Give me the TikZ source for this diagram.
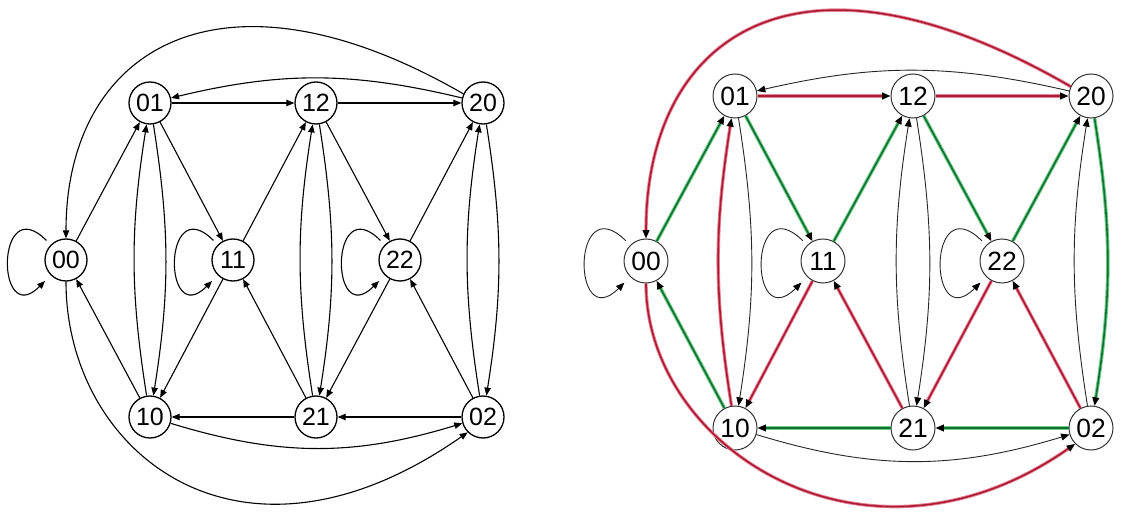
\documentclass[tikz,border=0pt]{standalone}
\usepackage{fontspec}
\setmainfont{Liberation Sans}
\usetikzlibrary{arrows.meta}
\definecolor{redcore}{RGB}{170,28,52}
\definecolor{redglow}{RGB}{232,130,150}
\definecolor{greencore}{RGB}{18,112,52}
\definecolor{greenglow}{RGB}{110,205,135}
\begin{document}
\begin{tikzpicture}[x=0.5pt,y=0.5pt,
  L/.style={circle,draw,fill=white,line width=0.65pt,minimum size=21pt,inner sep=0pt,font=\fontsize{12.5}{12.5}\selectfont},
  R/.style={circle,draw=black!80,fill=white,line width=0.5pt,minimum size=22pt,inner sep=0pt,font=\fontsize{13.2}{13.2}\selectfont},
  e/.style={line width=0.55pt,-{Triangle[length=4pt,width=3.2pt]}},
  te/.style={line width=0.45pt,draw=black!85,-{Triangle[length=4.2pt,width=3.4pt,black]}},
  re/.style={line width=0.8pt,draw=redcore,preaction={draw=redglow,line width=1.7pt,arrows=-,shorten >=4pt},-{Triangle[length=4.2pt,width=3.4pt,black]}},
  ge/.style={line width=0.8pt,draw=greencore,preaction={draw=greenglow,line width=1.8pt,arrows=-,shorten >=4pt},-{Triangle[length=4.2pt,width=3.4pt,black]}},
  lp/.style={shorten <=3pt,shorten >=4pt}]
\fill[white] (0,0) rectangle (1136,515);
\useasboundingbox (0,0) rectangle (1136,515);
% ---------------- left diagram ----------------
\node[L] (a00) at (66,255) {00};
\node[L] (a01) at (150,412) {01};
\node[L] (a10) at (150,98) {10};
\node[L] (a11) at (233,255) {11};
\node[L] (a12) at (316,412) {12};
\node[L] (a21) at (316,98) {21};
\node[L] (a22) at (400,255) {22};
\node[L] (a20) at (483,412) {20};
\node[L] (a02) at (483,98) {02};
\draw[e] (a00) -- (a01);
\draw[e] (a10) -- (a00);
\draw[e] (a01) -- (a11);
\draw[e] (a11) -- (a12);
\draw[e] (a11) -- (a10);
\draw[e] (a21) -- (a11);
\draw[e] (a12) -- (a22);
\draw[e] (a22) -- (a20);
\draw[e] (a22) -- (a21);
\draw[e] (a02) -- (a22);
\draw[e] (a01) -- (a12);
\draw[e] (a12) -- (a20);
\draw[e] (a21) -- (a10);
\draw[e] (a02) -- (a21);
\draw[e] (a10) to[bend left=9] (a01);
\draw[e] (a01) to[bend left=9] (a10);
\draw[e] (a21) to[bend left=9] (a12);
\draw[e] (a12) to[bend left=9] (a21);
\draw[e] (a02) to[bend left=9] (a20);
\draw[e] (a20) to[bend left=9] (a02);
\draw[e] (a20) to[bend right=13.5] (a01);
\draw[e] (a10) to[bend right=17] (a02);
\draw[e] (a20.155) .. controls +(150:280) and +(90:190) .. (a00.north);
\draw[e] (a00.south) .. controls +(270:170) and +(215:280) .. (a02.225);
\draw[e,lp] (a00.135) .. controls +(135:78) and +(225:78) .. (a00.225);
\draw[e,lp] (a11.135) .. controls +(135:78) and +(225:78) .. (a11.225);
\draw[e,lp] (a22.135) .. controls +(135:78) and +(225:78) .. (a22.225);
% ---------------- right diagram ----------------
\node[R] (b00) at (646,254) {00};
\node[R] (b01) at (735,419) {01};
\node[R] (b10) at (735,87) {10};
\node[R] (b11) at (823,254) {11};
\node[R] (b12) at (913,419) {12};
\node[R] (b21) at (913,87) {21};
\node[R] (b22) at (1002,254) {22};
\node[R] (b20) at (1091,419) {20};
\node[R] (b02) at (1091,87) {02};
\draw[te] (b20) to[bend right=13] (b01);
\draw[te] (b10) to[bend right=17] (b02);
\draw[te] (b01) to[bend left=9] (b10);
\draw[te] (b21) to[bend left=9] (b12);
\draw[te] (b12) to[bend left=9] (b21);
\draw[te] (b02) to[bend left=9] (b20);
\draw[te,lp] (b00.135) .. controls +(135:83) and +(225:83) .. (b00.225);
\draw[te,lp] (b11.135) .. controls +(135:83) and +(225:83) .. (b11.225);
\draw[te,lp] (b22.135) .. controls +(135:83) and +(225:83) .. (b22.225);
\draw[re] (b01) -- (b12);
\draw[re] (b12) -- (b20);
\draw[re] (b20.155) .. controls +(150:320) and +(90:200) .. (b00.north);
\draw[re] (b00.south) .. controls +(270:165) and +(215:255) .. (b02.225);
\draw[re] (b10) to[bend left=9] (b01);
\draw[re] (b11) -- (b10);
\draw[re] (b21) -- (b11);
\draw[re] (b22) -- (b21);
\draw[re] (b02) -- (b22);
\draw[ge] (b21) -- (b10);
\draw[ge] (b02) -- (b21);
\draw[ge] (b00) -- (b01);
\draw[ge] (b10) -- (b00);
\draw[ge] (b01) -- (b11);
\draw[ge] (b11) -- (b12);
\draw[ge] (b12) -- (b22);
\draw[ge] (b22) -- (b20);
\draw[ge] (b20) to[bend left=9] (b02);
\end{tikzpicture}
\end{document}
